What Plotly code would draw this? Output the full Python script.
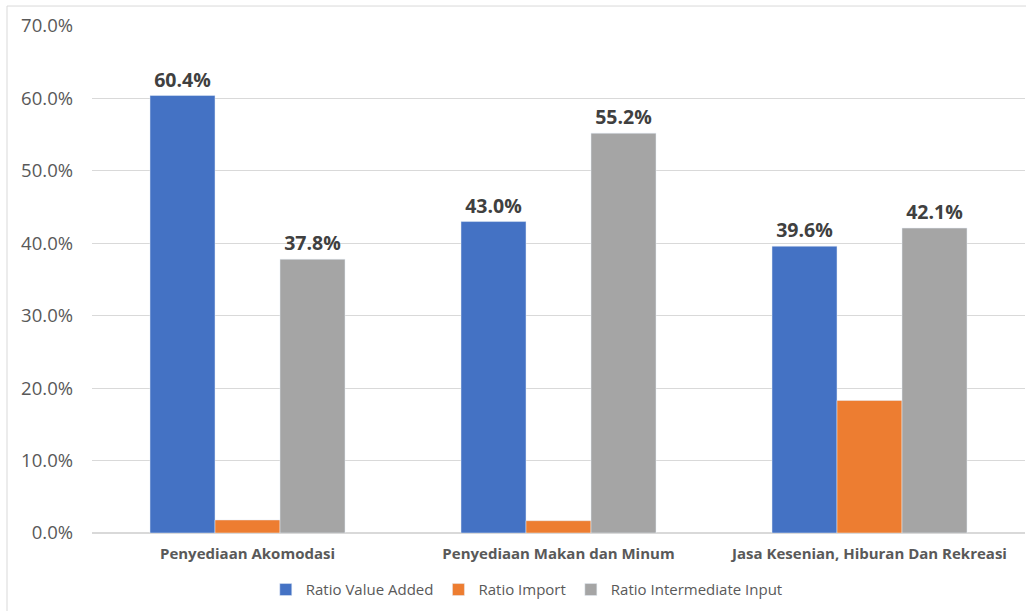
import plotly.graph_objects as go

categories = ["Penyediaan Akomodasi", "Penyediaan Makan dan Minum", "Jasa Kesenian, Hiburan Dan Rekreasi"]
value_added = [60.4, 43.0, 39.6]
import_ratio = [1.8, 1.7, 18.3]
intermediate = [37.8, 55.2, 42.1]
tick_vals = [0, 10, 20, 30, 40, 50, 60, 70]
tick_text = ["0.0%", "10.0%", "20.0%", "30.0%", "40.0%", "50.0%", "60.0%", "70.0%"]

label_font = dict(family="Open Sans, Noto Sans, sans-serif", size=19.5, color="#404040", weight="bold")

fig = go.Figure()
fig.add_trace(go.Bar(
    x=categories, y=value_added, name="Ratio Value Added", marker_color="#4472C4",
    text=[f"{v:.1f}%" for v in value_added], textposition="outside", textfont=label_font,
    cliponaxis=False))
fig.add_trace(go.Bar(
    x=categories, y=import_ratio, name="Ratio Import", marker_color="#ED7D31"))
fig.add_trace(go.Bar(
    x=categories, y=intermediate, name="Ratio Intermediate Input", marker_color="#A5A5A5",
    text=[f"{v:.1f}%" for v in intermediate], textposition="outside", textfont=label_font,
    cliponaxis=False))

fig.update_layout(
    width=1026, height=611,
    margin=dict(l=92, r=1, t=26, b=78),
    paper_bgcolor="white", plot_bgcolor="white",
    barmode="group", bargap=0.373, bargroupgap=0,
    font=dict(family="Open Sans, Noto Sans, sans-serif", color="#595959"),
    legend=dict(orientation="h", x=0.466, xanchor="center", y=-0.112, yanchor="middle",
                font=dict(size=15, color="#595959"), traceorder="normal"),
    showlegend=True,
    uniformtext=dict(mode=False),
)
fig.update_yaxes(range=[0, 70], tickvals=tick_vals, ticktext=tick_text,
                 showgrid=True, gridcolor="#D9D9D9", gridwidth=1,
                 zeroline=True, zerolinecolor="#D9D9D9",
                 tickfont=dict(size=18.5, color="#595959"), ticks="", ticklen=0,
                 ticklabelstandoff=18, showline=False)
fig.update_xaxes(tickfont=dict(size=15, color="#595959", weight="bold"),
                 ticklabelstandoff=10, showline=False, ticks="")

# chart border
fig.add_shape(type="rect", xref="paper", yref="paper",
              x0=-0.0911, x1=1.05, y0=-0.2, y1=1.0394,
              line=dict(color="#D9D9D9", width=1), layer="below")

fig.write_html("out.html")
